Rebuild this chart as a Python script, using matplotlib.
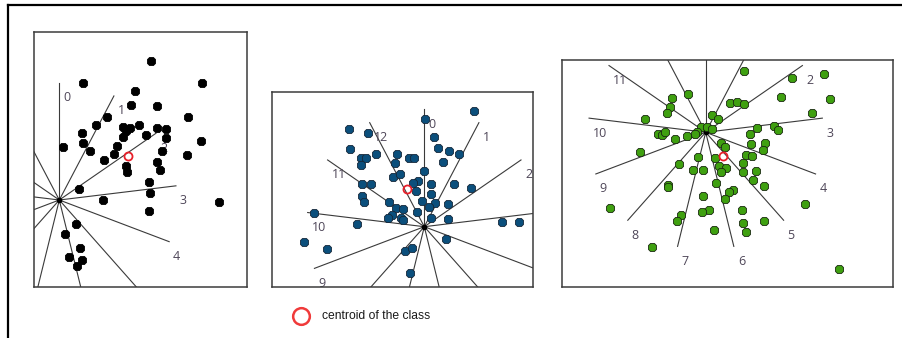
import matplotlib
matplotlib.use("Agg")
import matplotlib.pyplot as plt
from matplotlib.lines import Line2D
import numpy as np

# point coordinates, measured from the centre of the ray star (x right, y up)
p1_x = [91.4, 24, 142.4, 75.7, 71.7, 98, 47.4, 129, 36.4, 63.4, 70.7, 80, 98, 106.4, 22.4,
        86.4, 64, 66.7, 106.7, 142, 24, 3.4, 57.4, 30.7, 102.4, 55, 127.4, 45, 97.4, 66.7,
        100.7, 67.4, 89.7, 20, 90.7, 44, 89.7, 160, 16.7, 5.7, 20.7, 10, 23, 17.4]
p1_y = [139.3, 117.3, 116.7, 109.3, 95, 94, 83.3, 83.3, 74.7, 72.7, 71.7, 75, 72.3, 71, 66.7,
        65, 63.3, 69, 61.7, 59.3, 57.3, 53.3, 54.3, 49.3, 49.3, 46, 45.3, 40, 38.3, 34,
        30, 27.7, 18.3, 11, 6.7, 0, -11, -2.3, -24, -34.3, -48.3, -57.3, -60, -65.7]
p1_centroid = (68.4, 44)

p2_x = [49.7, 0.7, -75.3, -56, 9.7, -74.3, 14, 25, 35, -48.3, -27.7, -63.7, -58.7, -15.3, -10,
        -63.3, -29.3, 18.3, -0.3, -31.7, -24.3, -6.7, -11, -62.7, -53.3, 6.3, 29.7, 46.3, -8.3,
        6.7, -62.7, -60.3, -2.7, -35, 10.7, 23.3, 4.7, -28.3, -21, -7.7, -32.7, -36, -23.7,
        -21, 6.3, 23.3, -67.7, 77.3, 94.7, -110, 21.7, -120, -97, -19.3, -12, -14.3]
p2_y = [115.7, 107.3, 97.7, 94, 89.3, 77.7, 79, 75.7, 72.3, 72.7, 72.3, 68.3, 68.3, 69, 69,
        61.7, 63.3, 64.3, 56, 50, 52.3, 46, 43.3, 42.7, 42.7, 42.7, 42.7, 38.3, 35.7,
        32.7, 30.7, 24.3, 25.7, 24.3, 23.3, 22.3, 19.3, 19, 17.7, 14.3, 11.7, 8.3, 8.3,
        6.7, 9, 7.3, 2.7, 5, 4.3, 14, -12.7, -15, -22.3, -24.3, -21.7, -46.7]
p2_centroid = (-17.7, 37.7)

p3_x = [38.7, 118.7, 86.7, -18, 75.3, -34, 124.3, 24.3, 31, 38.3, -35.7, -39, 106, 6, 12.7,
        -60.7, -5, 1, 6, -9, 51, 68.7, 72, -47.3, -43.3, -40.7, -19, -30.7, 44.3, -10.7,
        15.3, 19.3, 59.3, 45.3, 57.7, -65.3, 40.3, 46, 9.3, -7.3, -26.7, 37.7, 13.3, 20,
        -12.3, -3, 15.3, 50.3, 37.7, 47.7, 10, 58.7, -37.3, -38, 27.7, 23.3, -2.3, 19.3,
        99.3, -95.7, 36.7, 3.3, -4, -24.7, -29, 58.3, 37.7, 40, 8.3, -54, 133.3]
p3_y = [61.3, 58, 54, 38.3, 35.7, 34, 33.3, 29.7, 30.7, 28.3, 25, 19, 19, 17.3, 13,
        13.3, 5.7, 5.7, 3.3, 0.7, 4.7, 6.3, 2.3, -1.7, -2.7, 0, -3.7, -6.7, -1.7, -2,
        -11, -14.3, -10.3, -12, -17.7, -19.3, -22.7, -23.7, -25.3, -25, -32, -31, -33.7, -36,
        -37.7, -37.7, -40, -38.3, -40, -47.7, -51, -53.7, -52.7, -54.3, -57.7, -59.3, -63.3, -66.7,
        -71.7, -76, -77.7, -77.7, -80, -82.7, -88.7, -88.3, -91, -99.3, -97.7, -114.3, -136.7]
p3_centroid = (17.7, -23.7)

n_dirs = 13
ray_len = 117.5
dir_labels = [str(k) for k in range(n_dirs)]

W, H = 902, 338
fig = plt.figure(figsize=(W / 100, H / 100), dpi=100)


def px_axes(left, top, right, bottom):
    return fig.add_axes([left / W, 1 - bottom / H, (right - left) / W, (bottom - top) / H])


def panel(ax, xs, ys, centroid, xlim, ylim, face, edge, msize):
    ang = np.deg2rad(np.arange(n_dirs) * 360.0 / n_dirs)
    ex = ray_len * np.sin(ang)
    ey = ray_len * np.cos(ang)
    for k in range(n_dirs):
        ax.plot([0, ex[k]], [0, ey[k]], color="#3a3a3a", lw=0.8, zorder=1)
        lx, ly = ex[k] + 4, ey[k] - 15
        # labels whose spot falls outside the panel are hidden, as in the original
        if xlim[0] < lx < xlim[1] - 6 and ylim[0] < ly < ylim[1]:
            ax.text(lx, ly, dir_labels[k], ha="left", va="center", fontsize=9,
                    family="Open Sans", color="#4e4658", clip_on=True, zorder=2)
    ax.plot([0], [0], marker="o", ms=3, color="black", zorder=1)
    ax.plot(xs, ys, linestyle="none", marker="8", ms=msize, mfc=face, mec=edge,
            mew=0.6, zorder=3)
    ax.plot([centroid[0]], [centroid[1]], marker="o", ms=5.8, mfc="none",
            mec="#e8202a", mew=1.3, zorder=4)
    ax.set_xlim(*xlim)
    ax.set_ylim(*ylim)
    ax.set_xticks([])
    ax.set_yticks([])
    for s in ax.spines.values():
        s.set_color("#3c3c3c")
        s.set_linewidth(1.1)


ax1 = px_axes(34, 32, 247, 287)
panel(ax1, p1_x, p1_y, p1_centroid, (-25.3, 187.7), (-87, 168), "black", "black", 6.0)

ax2 = px_axes(272.3, 92.3, 533.3, 286.7)
panel(ax2, p2_x, p2_y, p2_centroid, (-152, 109), (-60, 134.4), "#0b4f7c", "#16283a", 5.9)

ax3 = px_axes(562.3, 60, 893.3, 286.7)
panel(ax3, p3_x, p3_y, p3_centroid, (-143.4, 187.6), (-154.4, 72.3), "#3fa010", "#1a2a10", 6.0)

# open outer frame (top and left edges)
fig.add_artist(Line2D([8 / W, 1], [1 - 5 / H, 1 - 5 / H], color="black", lw=1.6))
fig.add_artist(Line2D([8 / W, 8 / W], [1 - 5 / H, 0], color="black", lw=1.6))

# legend for the centroid marker
fig.add_artist(Line2D([301.3 / W], [1 - 316 / H], marker="o", ms=12, mfc="none",
                      mec="#f03a3a", mew=1.8, linestyle="none"))
fig.text(322 / W, 1 - 316 / H, "centroid of the class", ha="left", va="center",
         fontsize=8.7, family="Liberation Sans", color="#1a1a1a")

fig.savefig("out.png", dpi=100)
